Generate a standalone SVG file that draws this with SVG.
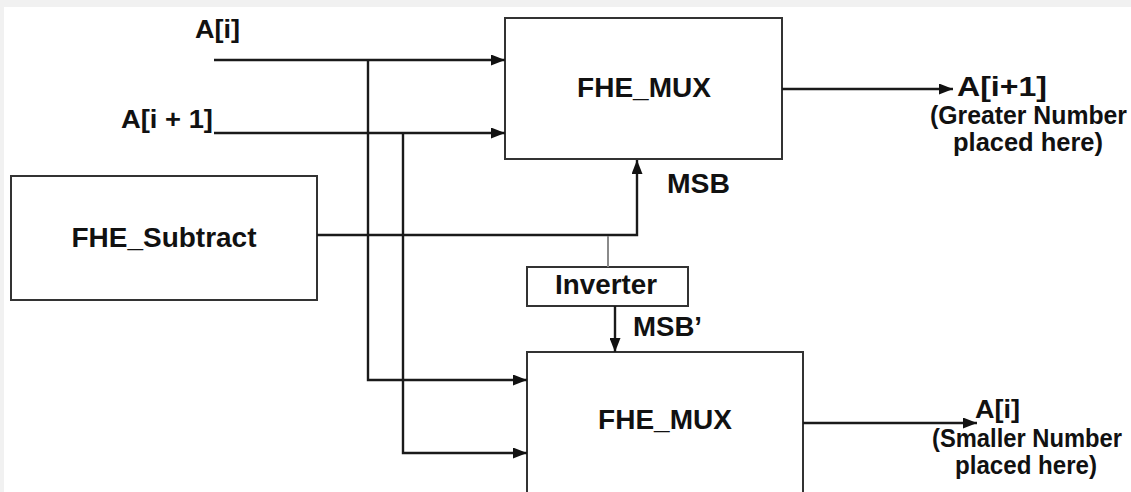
<svg xmlns="http://www.w3.org/2000/svg" width="1131" height="492" viewBox="0 0 1131 492">
<defs>
<marker id="arr" viewBox="0 0 14 11" refX="14" refY="5.5" markerWidth="14" markerHeight="11" markerUnits="userSpaceOnUse" orient="auto">
<path d="M0,0 L14,5.5 L0,11 Z" fill="#111"/>
</marker>
<style>
.box{fill:#fff;stroke:#333;stroke-width:2}
.ln{fill:none;stroke:#1a1a1a;stroke-width:2.4}
.gl{fill:none;stroke:#8a8a8a;stroke-width:2}
.t{font-family:"Liberation Sans",Arial,sans-serif;font-weight:bold;fill:#111}
.big{font-size:28px}
.lab{font-size:26px}
</style>
</defs>
<rect x="0" y="0" width="1131" height="492" fill="#fff"/>
<rect x="0" y="0" width="1131" height="7" fill="#f1f1f1"/>
<rect x="0" y="0" width="4" height="492" fill="#f1f1f1"/>

<g id="mux_top">
<rect class="box" x="505" y="18" width="277" height="141"/>
<text class="t big" x="644" y="97" text-anchor="middle">FHE_MUX</text>
</g>
<g id="mux_bottom">
<rect class="box" x="527" y="352" width="276" height="160"/>
<text class="t big" x="665" y="429" text-anchor="middle">FHE_MUX</text>
</g>
<g id="subtract">
<rect class="box" x="11" y="176" width="306" height="124"/>
<text class="t big" x="164" y="247" text-anchor="middle" textLength="185" lengthAdjust="spacingAndGlyphs">FHE_Subtract</text>
</g>
<g id="inverter">
<rect class="box" x="527" y="267" width="161" height="39"/>
<text class="t" font-size="27" x="606" y="294" text-anchor="middle" textLength="102" lengthAdjust="spacingAndGlyphs">Inverter</text>
</g>

<g id="connectors">
<line class="ln" x1="214" y1="60" x2="505" y2="60" marker-end="url(#arr)"/>
<line class="ln" x1="214" y1="133" x2="505" y2="133" marker-end="url(#arr)"/>
<polyline class="ln" points="368,60 368,380 527,380" marker-end="url(#arr)"/>
<polyline class="ln" points="403,133 403,453 527,453" marker-end="url(#arr)"/>
<polyline class="ln" points="317,235 637,235 637,160" marker-end="url(#arr)"/>
<line class="gl" x1="608" y1="236" x2="608" y2="267"/>
<line class="ln" x1="615" y1="306" x2="615" y2="352" marker-end="url(#arr)"/>
<line class="ln" x1="782" y1="89" x2="953" y2="89" marker-end="url(#arr)"/>
<line class="ln" x1="803" y1="423" x2="977" y2="423" marker-end="url(#arr)"/>
</g>

<g id="labels">
<text class="t lab" x="195" y="38" textLength="45" lengthAdjust="spacingAndGlyphs">A[i]</text>
<text class="t lab" x="121" y="128" textLength="92" lengthAdjust="spacingAndGlyphs">A[i + 1]</text>
<text class="t" font-size="27" x="667" y="193" textLength="63" lengthAdjust="spacingAndGlyphs">MSB</text>
<text class="t" font-size="27" x="633" y="336" textLength="69" lengthAdjust="spacingAndGlyphs">MSB’</text>
<text class="t" font-size="27" x="957" y="96" textLength="90" lengthAdjust="spacingAndGlyphs">A[i+1]</text>
<text class="t" font-size="25" x="930" y="124" textLength="197" lengthAdjust="spacingAndGlyphs">(Greater Number</text>
<text class="t" font-size="25" x="953" y="151" textLength="150" lengthAdjust="spacingAndGlyphs">placed here)</text>
<text class="t lab" x="975" y="418" textLength="45" lengthAdjust="spacingAndGlyphs">A[i]</text>
<text class="t" font-size="25" x="932" y="447" textLength="190" lengthAdjust="spacingAndGlyphs">(Smaller Number</text>
<text class="t" font-size="25" x="955" y="474" textLength="142" lengthAdjust="spacingAndGlyphs">placed here)</text>
</g>
</svg>
